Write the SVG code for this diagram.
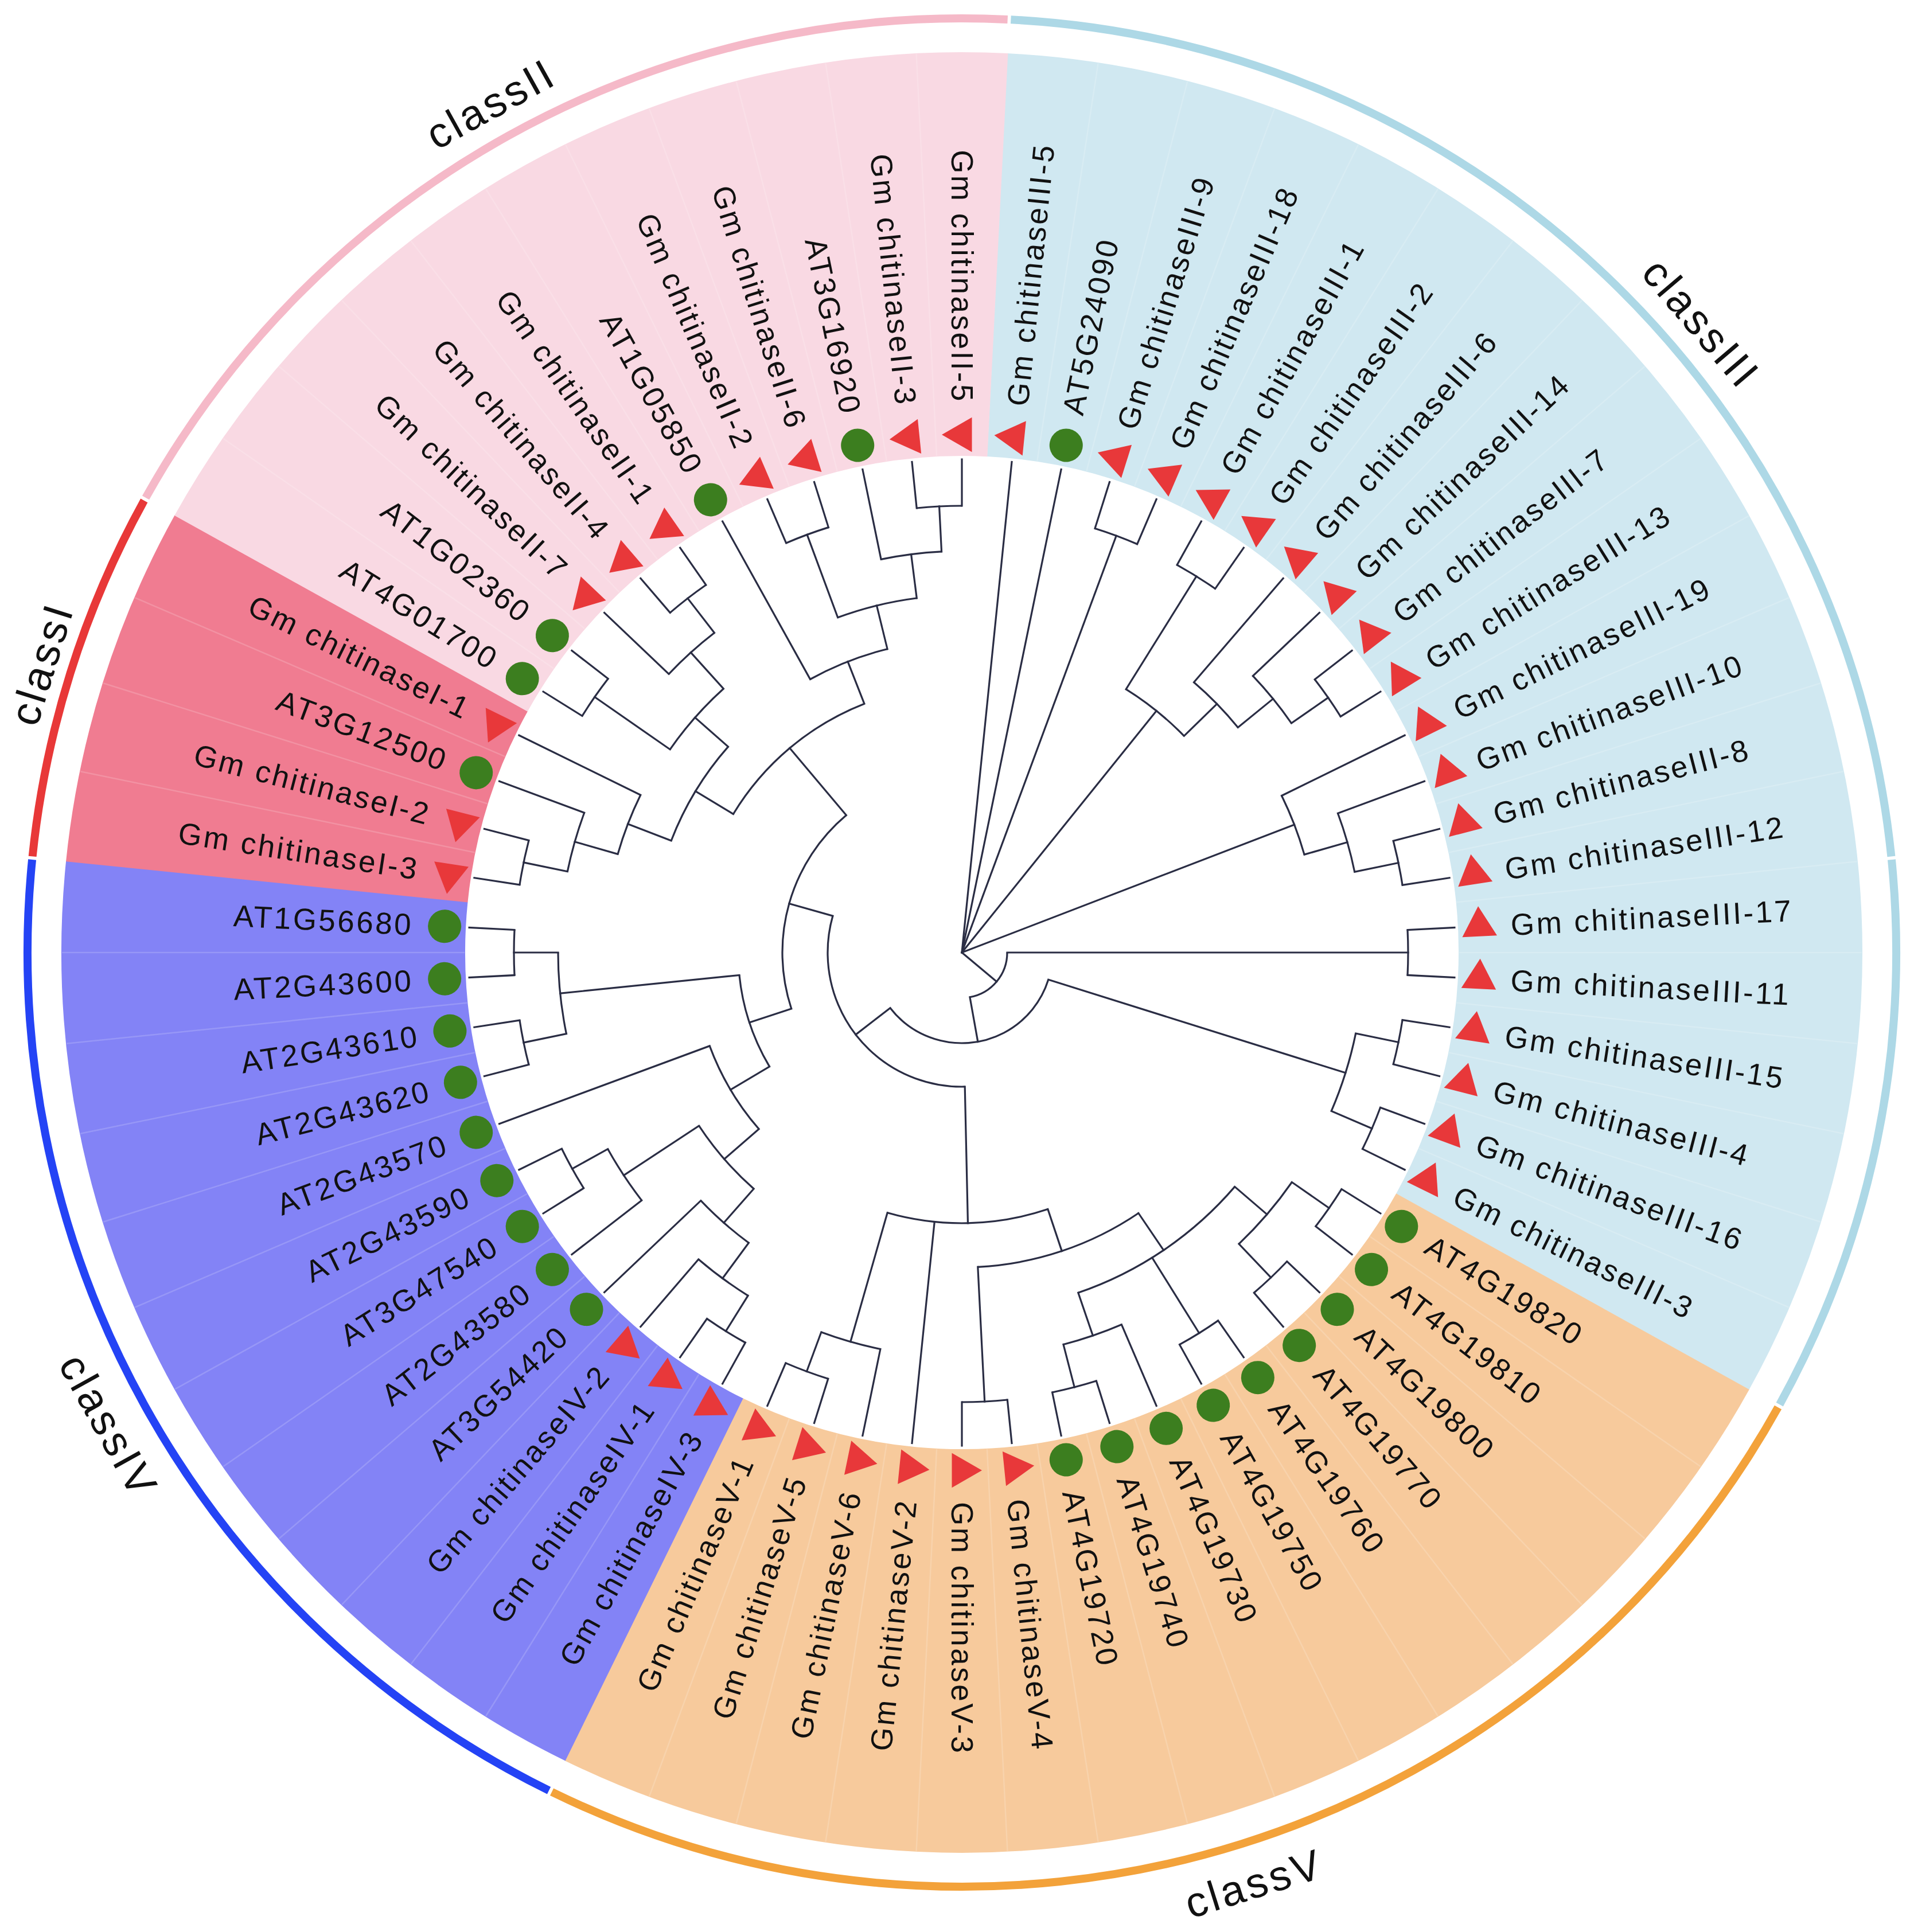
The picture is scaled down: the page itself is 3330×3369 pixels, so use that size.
<svg xmlns="http://www.w3.org/2000/svg" width="3330" height="3369" viewBox="0 0 3330 3369">
<style>
.lb{font-family:"Liberation Sans",Arial,sans-serif;font-size:53px;letter-spacing:3.5px;fill:#111111;dominant-baseline:central}
.lt{text-anchor:end}
.cl{font-family:"Liberation Sans",Arial,sans-serif;font-size:74px;letter-spacing:5px;fill:#111111;text-anchor:middle}
#connectors line,#connectors circle{fill:none;stroke:#2a2d44;stroke-width:3.2}
#connectors line{stroke-linecap:square}
</style>
<defs>
<polygon id="tri" points="903,-35 872.7,17.5 933.3,17.5" fill="#E8383A"/>
<circle id="dot" cx="903" cy="0" r="29" fill="#3C7E1F"/>
<line id="sep" x1="867" x2="1569" y1="0" y2="0" stroke="#ffffff" stroke-opacity="0.17" stroke-width="2.5"/>
</defs>
<rect width="3330" height="3369" fill="#ffffff"/>
<g transform="translate(1677,1661)">
<g id="ranges" fill="none" stroke-width="704">
<circle r="1218" pathLength="360" stroke="#D0E8F1" stroke-dasharray="116.16 360" transform="rotate(-87.097)"/>
<circle r="1218" pathLength="360" stroke="#F7CA9C" stroke-dasharray="87.13 360" transform="rotate(29.032)"/>
<circle r="1218" pathLength="360" stroke="#8383F6" stroke-dasharray="69.71 360" transform="rotate(116.129)"/>
<circle r="1218" pathLength="360" stroke="#F07C91" stroke-dasharray="23.26 360" transform="rotate(185.806)"/>
<circle r="1218" pathLength="360" stroke="#F9D9E3" stroke-dasharray="63.90 360" transform="rotate(209.032)"/>
</g>
<g id="separators">
<use href="#sep" transform="rotate(-81.290)"/><use href="#sep" transform="rotate(-75.484)"/><use href="#sep" transform="rotate(-69.677)"/><use href="#sep" transform="rotate(-63.871)"/><use href="#sep" transform="rotate(-58.065)"/><use href="#sep" transform="rotate(-52.258)"/><use href="#sep" transform="rotate(-46.452)"/><use href="#sep" transform="rotate(-40.645)"/><use href="#sep" transform="rotate(-34.839)"/><use href="#sep" transform="rotate(-29.032)"/><use href="#sep" transform="rotate(-23.226)"/><use href="#sep" transform="rotate(-17.419)"/><use href="#sep" transform="rotate(-11.613)"/><use href="#sep" transform="rotate(-5.806)"/><use href="#sep" transform="rotate(0)"/><use href="#sep" transform="rotate(5.806)"/><use href="#sep" transform="rotate(11.613)"/><use href="#sep" transform="rotate(17.419)"/><use href="#sep" transform="rotate(23.226)"/>
<use href="#sep" transform="rotate(34.839)"/><use href="#sep" transform="rotate(40.645)"/><use href="#sep" transform="rotate(46.452)"/><use href="#sep" transform="rotate(52.258)"/><use href="#sep" transform="rotate(58.065)"/><use href="#sep" transform="rotate(63.871)"/><use href="#sep" transform="rotate(69.677)"/><use href="#sep" transform="rotate(75.484)"/><use href="#sep" transform="rotate(81.290)"/><use href="#sep" transform="rotate(87.097)"/><use href="#sep" transform="rotate(92.903)"/><use href="#sep" transform="rotate(98.710)"/><use href="#sep" transform="rotate(104.516)"/><use href="#sep" transform="rotate(110.323)"/>
<use href="#sep" transform="rotate(121.935)"/><use href="#sep" transform="rotate(127.742)"/><use href="#sep" transform="rotate(133.548)"/><use href="#sep" transform="rotate(139.355)"/><use href="#sep" transform="rotate(145.161)"/><use href="#sep" transform="rotate(150.968)"/><use href="#sep" transform="rotate(156.774)"/><use href="#sep" transform="rotate(162.581)"/><use href="#sep" transform="rotate(168.387)"/><use href="#sep" transform="rotate(174.194)"/><use href="#sep" transform="rotate(180)"/>
<use href="#sep" transform="rotate(191.613)"/><use href="#sep" transform="rotate(197.419)"/><use href="#sep" transform="rotate(203.226)"/>
<use href="#sep" transform="rotate(214.839)"/><use href="#sep" transform="rotate(220.645)"/><use href="#sep" transform="rotate(226.452)"/><use href="#sep" transform="rotate(232.258)"/><use href="#sep" transform="rotate(238.065)"/><use href="#sep" transform="rotate(243.871)"/><use href="#sep" transform="rotate(249.677)"/><use href="#sep" transform="rotate(255.484)"/><use href="#sep" transform="rotate(261.290)"/><use href="#sep" transform="rotate(267.097)"/>
</g>
<g id="class-rings" fill="none" stroke-width="14">
<circle r="1629" pathLength="360" stroke="#F5B9C8" stroke-dasharray="63.671 360" transform="rotate(209.132)"/>
<circle r="1629" pathLength="360" stroke="#ADD8E6" stroke-dasharray="81.091 360" transform="rotate(-86.997)"/>
<circle r="1629" pathLength="360" stroke="#ADD8E6" stroke-dasharray="34.638 360" transform="rotate(-5.706)"/>
<circle r="1629" pathLength="360" stroke="#F3A23A" stroke-dasharray="86.897 360" transform="rotate(29.132)"/>
<circle r="1629" pathLength="360" stroke="#2443F5" stroke-dasharray="69.477 360" transform="rotate(116.229)"/>
<circle r="1629" pathLength="360" stroke="#E83838" stroke-dasharray="23.026 360" transform="rotate(185.906)"/>
</g>
<g id="class-labels" class="cl">
<text transform="rotate(-119.03) translate(1667 0) rotate(90)">classII</text>
<text transform="rotate(-40.4) translate(1667 0) rotate(90)">classIII</text>
<text transform="rotate(197.42) translate(1656 0) rotate(90)">classI</text>
<text transform="rotate(150.97) translate(1727 0) rotate(-90)">classIV</text>
<text transform="rotate(72.58) translate(1727 0) rotate(-90)">classV</text>
</g>
<g id="connectors">
<line x1="0" x2="860" transform="rotate(-84.194)"/>
<line x1="0" x2="860" transform="rotate(-78.387)"/>
<line x1="775" x2="860" transform="rotate(-72.581)"/>
<line x1="775" x2="860" transform="rotate(-66.774)"/>
<line x1="773" x2="860" transform="rotate(-60.968)"/>
<line x1="773" x2="860" transform="rotate(-55.161)"/>
<line x1="621" x2="860" transform="rotate(-49.355)"/>
<line x1="700" x2="860" transform="rotate(-43.548)"/>
<line x1="778" x2="860" transform="rotate(-37.742)"/>
<line x1="778" x2="860" transform="rotate(-31.935)"/>
<line x1="621" x2="860" transform="rotate(-26.129)"/>
<line x1="699" x2="860" transform="rotate(-20.323)"/>
<line x1="777" x2="860" transform="rotate(-14.516)"/>
<line x1="777" x2="860" transform="rotate(-8.710)"/>
<line x1="778" x2="860" transform="rotate(-2.903)"/>
<line x1="778" x2="860" transform="rotate(2.903)"/>
<line x1="777" x2="860" transform="rotate(8.710)"/>
<line x1="777" x2="860" transform="rotate(14.516)"/>
<line x1="778" x2="860" transform="rotate(20.323)"/>
<line x1="778" x2="860" transform="rotate(26.129)"/>
<line x1="780" x2="860" transform="rotate(31.935)"/>
<line x1="780" x2="860" transform="rotate(37.742)"/>
<line x1="782" x2="860" transform="rotate(43.548)"/>
<line x1="782" x2="860" transform="rotate(49.355)"/>
<line x1="782" x2="860" transform="rotate(55.161)"/>
<line x1="782" x2="860" transform="rotate(60.968)"/>
<line x1="706" x2="860" transform="rotate(66.774)"/>
<line x1="783" x2="860" transform="rotate(72.581)"/>
<line x1="783" x2="860" transform="rotate(78.387)"/>
<line x1="784" x2="860" transform="rotate(84.194)"/>
<line x1="784" x2="860" transform="rotate(90)"/>
<line x1="472" x2="860" transform="rotate(95.806)"/>
<line x1="706" x2="860" transform="rotate(101.613)"/>
<line x1="779" x2="860" transform="rotate(107.419)"/>
<line x1="779" x2="860" transform="rotate(113.226)"/>
<line x1="778" x2="860" transform="rotate(119.032)"/>
<line x1="778" x2="860" transform="rotate(124.839)"/>
<line x1="705" x2="860" transform="rotate(130.645)"/>
<line x1="628" x2="860" transform="rotate(136.452)"/>
<line x1="706" x2="860" transform="rotate(142.258)"/>
<line x1="777" x2="860" transform="rotate(148.065)"/>
<line x1="777" x2="860" transform="rotate(153.871)"/>
<line x1="469" x2="860" transform="rotate(159.677)"/>
<line x1="780" x2="860" transform="rotate(165.484)"/>
<line x1="780" x2="860" transform="rotate(171.290)"/>
<line x1="781" x2="860" transform="rotate(177.097)"/>
<line x1="781" x2="860" transform="rotate(182.903)"/>
<line x1="780" x2="860" transform="rotate(188.710)"/>
<line x1="780" x2="860" transform="rotate(194.516)"/>
<line x1="702" x2="860" transform="rotate(200.323)"/>
<line x1="624" x2="860" transform="rotate(206.129)"/>
<line x1="780" x2="860" transform="rotate(211.935)"/>
<line x1="780" x2="860" transform="rotate(217.742)"/>
<line x1="705" x2="860" transform="rotate(223.548)"/>
<line x1="781" x2="860" transform="rotate(229.355)"/>
<line x1="781" x2="860" transform="rotate(235.161)"/>
<line x1="545" x2="860" transform="rotate(240.968)"/>
<line x1="777" x2="860" transform="rotate(246.774)"/>
<line x1="777" x2="860" transform="rotate(252.581)"/>
<line x1="700" x2="860" transform="rotate(258.387)"/>
<line x1="779" x2="860" transform="rotate(264.194)"/>
<line x1="779" x2="860" transform="rotate(270)"/>
<line x1="0" x2="775" transform="rotate(-69.677)"/>
<line x1="541" x2="773" transform="rotate(-58.065)"/>
<line x1="700" x2="778" transform="rotate(-34.839)"/>
<line x1="621" x2="700" transform="rotate(-39.194)"/>
<line x1="541" x2="621" transform="rotate(-44.274)"/>
<line x1="0" x2="541" transform="rotate(-51.170)"/>
<line x1="699" x2="777" transform="rotate(-11.613)"/>
<line x1="621" x2="699" transform="rotate(-15.968)"/>
<line x1="0" x2="621" transform="rotate(-21.049)"/>
<line x1="79" x2="778" transform="rotate(0)"/>
<line x1="701" x2="777" transform="rotate(11.613)"/>
<line x1="701" x2="778" transform="rotate(23.226)"/>
<line x1="158" x2="701" transform="rotate(17.419)"/>
<line x1="701" x2="780" transform="rotate(34.839)"/>
<line x1="701" x2="782" transform="rotate(46.452)"/>
<line x1="627" x2="701" transform="rotate(40.645)"/>
<line x1="627" x2="782" transform="rotate(58.065)"/>
<line x1="706" x2="783" transform="rotate(75.484)"/>
<line x1="627" x2="706" transform="rotate(71.129)"/>
<line x1="549" x2="627" transform="rotate(55.887)"/>
<line x1="549" x2="784" transform="rotate(87.097)"/>
<line x1="472" x2="549" transform="rotate(71.492)"/>
<line x1="706" x2="779" transform="rotate(110.323)"/>
<line x1="472" x2="706" transform="rotate(105.968)"/>
<line x1="234" x2="472" transform="rotate(88.730)"/>
<line x1="705" x2="778" transform="rotate(121.935)"/>
<line x1="628" x2="705" transform="rotate(126.290)"/>
<line x1="549" x2="628" transform="rotate(131.371)"/>
<line x1="706" x2="777" transform="rotate(150.968)"/>
<line x1="549" x2="706" transform="rotate(146.613)"/>
<line x1="469" x2="549" transform="rotate(138.992)"/>
<line x1="390" x2="469" transform="rotate(149.335)"/>
<line x1="704" x2="780" transform="rotate(168.387)"/>
<line x1="704" x2="781" transform="rotate(180)"/>
<line x1="390" x2="704" transform="rotate(174.194)"/>
<line x1="313" x2="390" transform="rotate(161.764)"/>
<line x1="702" x2="780" transform="rotate(191.613)"/>
<line x1="624" x2="702" transform="rotate(195.968)"/>
<line x1="543" x2="624" transform="rotate(201.048)"/>
<line x1="620" x2="780" transform="rotate(214.839)"/>
<line x1="705" x2="781" transform="rotate(232.258)"/>
<line x1="620" x2="705" transform="rotate(227.903)"/>
<line x1="543" x2="620" transform="rotate(221.371)"/>
<line x1="466" x2="543" transform="rotate(211.210)"/>
<line x1="623" x2="777" transform="rotate(249.677)"/>
<line x1="700" x2="779" transform="rotate(267.097)"/>
<line x1="623" x2="700" transform="rotate(262.742)"/>
<line x1="545" x2="623" transform="rotate(256.210)"/>
<line x1="466" x2="545" transform="rotate(248.589)"/>
<line x1="313" x2="466" transform="rotate(229.899)"/>
<line x1="234" x2="313" transform="rotate(195.832)"/>
<line x1="158" x2="234" transform="rotate(142.281)"/>
<line x1="79" x2="158" transform="rotate(79.850)"/>
<line x1="0" x2="79" transform="rotate(39.925)"/>
<circle r="775" pathLength="360" stroke-dasharray="5.806 360" transform="rotate(-72.581)"/>
<circle r="773" pathLength="360" stroke-dasharray="5.806 360" transform="rotate(-60.968)"/>
<circle r="778" pathLength="360" stroke-dasharray="5.806 360" transform="rotate(-37.742)"/>
<circle r="700" pathLength="360" stroke-dasharray="8.709 360" transform="rotate(-43.548)"/>
<circle r="621" pathLength="360" stroke-dasharray="10.161 360" transform="rotate(-49.355)"/>
<circle r="541" pathLength="360" stroke-dasharray="13.791 360" transform="rotate(-58.065)"/>
<circle r="777" pathLength="360" stroke-dasharray="5.806 360" transform="rotate(-14.516)"/>
<circle r="699" pathLength="360" stroke-dasharray="8.710 360" transform="rotate(-20.323)"/>
<circle r="621" pathLength="360" stroke-dasharray="10.161 360" transform="rotate(-26.129)"/>
<circle r="778" pathLength="360" stroke-dasharray="5.806 360" transform="rotate(-2.903)"/>
<circle r="777" pathLength="360" stroke-dasharray="5.806 360" transform="rotate(8.710)"/>
<circle r="778" pathLength="360" stroke-dasharray="5.806 360" transform="rotate(20.323)"/>
<circle r="701" pathLength="360" stroke-dasharray="11.613 360" transform="rotate(11.613)"/>
<circle r="780" pathLength="360" stroke-dasharray="5.807 360" transform="rotate(31.935)"/>
<circle r="782" pathLength="360" stroke-dasharray="5.807 360" transform="rotate(43.548)"/>
<circle r="701" pathLength="360" stroke-dasharray="11.613 360" transform="rotate(34.839)"/>
<circle r="782" pathLength="360" stroke-dasharray="5.807 360" transform="rotate(55.161)"/>
<circle r="783" pathLength="360" stroke-dasharray="5.806 360" transform="rotate(72.581)"/>
<circle r="706" pathLength="360" stroke-dasharray="8.710 360" transform="rotate(66.774)"/>
<circle r="627" pathLength="360" stroke-dasharray="30.484 360" transform="rotate(40.645)"/>
<circle r="784" pathLength="360" stroke-dasharray="5.806 360" transform="rotate(84.194)"/>
<circle r="549" pathLength="360" stroke-dasharray="31.210 360" transform="rotate(55.887)"/>
<circle r="779" pathLength="360" stroke-dasharray="5.807 360" transform="rotate(107.419)"/>
<circle r="706" pathLength="360" stroke-dasharray="8.710 360" transform="rotate(101.613)"/>
<circle r="472" pathLength="360" stroke-dasharray="34.476 360" transform="rotate(71.492)"/>
<circle r="778" pathLength="360" stroke-dasharray="5.807 360" transform="rotate(119.032)"/>
<circle r="705" pathLength="360" stroke-dasharray="8.710 360" transform="rotate(121.935)"/>
<circle r="628" pathLength="360" stroke-dasharray="10.162 360" transform="rotate(126.290)"/>
<circle r="777" pathLength="360" stroke-dasharray="5.806 360" transform="rotate(148.065)"/>
<circle r="706" pathLength="360" stroke-dasharray="8.710 360" transform="rotate(142.258)"/>
<circle r="549" pathLength="360" stroke-dasharray="15.242 360" transform="rotate(131.371)"/>
<circle r="469" pathLength="360" stroke-dasharray="20.685 360" transform="rotate(138.992)"/>
<circle r="780" pathLength="360" stroke-dasharray="5.806 360" transform="rotate(165.484)"/>
<circle r="781" pathLength="360" stroke-dasharray="5.806 360" transform="rotate(177.097)"/>
<circle r="704" pathLength="360" stroke-dasharray="11.613 360" transform="rotate(168.387)"/>
<circle r="390" pathLength="360" stroke-dasharray="24.859 360" transform="rotate(149.335)"/>
<circle r="780" pathLength="360" stroke-dasharray="5.806 360" transform="rotate(188.710)"/>
<circle r="702" pathLength="360" stroke-dasharray="8.710 360" transform="rotate(191.613)"/>
<circle r="624" pathLength="360" stroke-dasharray="10.161 360" transform="rotate(195.968)"/>
<circle r="780" pathLength="360" stroke-dasharray="5.807 360" transform="rotate(211.935)"/>
<circle r="781" pathLength="360" stroke-dasharray="5.806 360" transform="rotate(229.355)"/>
<circle r="705" pathLength="360" stroke-dasharray="8.710 360" transform="rotate(223.548)"/>
<circle r="620" pathLength="360" stroke-dasharray="13.064 360" transform="rotate(214.839)"/>
<circle r="543" pathLength="360" stroke-dasharray="20.323 360" transform="rotate(201.048)"/>
<circle r="777" pathLength="360" stroke-dasharray="5.807 360" transform="rotate(246.774)"/>
<circle r="779" pathLength="360" stroke-dasharray="5.806 360" transform="rotate(264.194)"/>
<circle r="700" pathLength="360" stroke-dasharray="8.710 360" transform="rotate(258.387)"/>
<circle r="623" pathLength="360" stroke-dasharray="13.065 360" transform="rotate(249.677)"/>
<circle r="545" pathLength="360" stroke-dasharray="15.242 360" transform="rotate(240.968)"/>
<circle r="466" pathLength="360" stroke-dasharray="37.379 360" transform="rotate(211.210)"/>
<circle r="313" pathLength="360" stroke-dasharray="68.135 360" transform="rotate(161.764)"/>
<circle r="234" pathLength="360" stroke-dasharray="107.102 360" transform="rotate(88.730)"/>
<circle r="158" pathLength="360" stroke-dasharray="124.862 360" transform="rotate(17.419)"/>
<circle r="79" pathLength="360" stroke-dasharray="79.850 360" transform="rotate(0)"/>
</g>
<g id="leaves">
<g id="GmIII-5" transform="rotate(-84.194)"><use href="#tri"/><text class="lb" x="958">Gm chitinaseIII-5</text></g>
<g id="AT5G24090" transform="rotate(-78.387)"><use href="#dot"/><text class="lb" x="958">AT5G24090</text></g>
<g id="GmIII-9" transform="rotate(-72.581)"><use href="#tri"/><text class="lb" x="958">Gm chitinaseIII-9</text></g>
<g id="GmIII-18" transform="rotate(-66.774)"><use href="#tri"/><text class="lb" x="958">Gm chitinaseIII-18</text></g>
<g id="GmIII-1" transform="rotate(-60.968)"><use href="#tri"/><text class="lb" x="958">Gm chitinaseIII-1</text></g>
<g id="GmIII-2" transform="rotate(-55.161)"><use href="#tri"/><text class="lb" x="958">Gm chitinaseIII-2</text></g>
<g id="GmIII-6" transform="rotate(-49.355)"><use href="#tri"/><text class="lb" x="958">Gm chitinaseIII-6</text></g>
<g id="GmIII-14" transform="rotate(-43.548)"><use href="#tri"/><text class="lb" x="958">Gm chitinaseIII-14</text></g>
<g id="GmIII-7" transform="rotate(-37.742)"><use href="#tri"/><text class="lb" x="958">Gm chitinaseIII-7</text></g>
<g id="GmIII-13" transform="rotate(-31.935)"><use href="#tri"/><text class="lb" x="958">Gm chitinaseIII-13</text></g>
<g id="GmIII-19" transform="rotate(-26.129)"><use href="#tri"/><text class="lb" x="958">Gm chitinaseIII-19</text></g>
<g id="GmIII-10" transform="rotate(-20.323)"><use href="#tri"/><text class="lb" x="958">Gm chitinaseIII-10</text></g>
<g id="GmIII-8" transform="rotate(-14.516)"><use href="#tri"/><text class="lb" x="958">Gm chitinaseIII-8</text></g>
<g id="GmIII-12" transform="rotate(-8.710)"><use href="#tri"/><text class="lb" x="958">Gm chitinaseIII-12</text></g>
<g id="GmIII-17" transform="rotate(-2.903)"><use href="#tri"/><text class="lb" x="958">Gm chitinaseIII-17</text></g>
<g id="GmIII-11" transform="rotate(2.903)"><use href="#tri"/><text class="lb" x="958">Gm chitinaseIII-11</text></g>
<g id="GmIII-15" transform="rotate(8.710)"><use href="#tri"/><text class="lb" x="958">Gm chitinaseIII-15</text></g>
<g id="GmIII-4" transform="rotate(14.516)"><use href="#tri"/><text class="lb" x="958">Gm chitinaseIII-4</text></g>
<g id="GmIII-16" transform="rotate(20.323)"><use href="#tri"/><text class="lb" x="958">Gm chitinaseIII-16</text></g>
<g id="GmIII-3" transform="rotate(26.129)"><use href="#tri"/><text class="lb" x="958">Gm chitinaseIII-3</text></g>
<g id="AT4G19820" transform="rotate(31.935)"><use href="#dot"/><text class="lb" x="958">AT4G19820</text></g>
<g id="AT4G19810" transform="rotate(37.742)"><use href="#dot"/><text class="lb" x="958">AT4G19810</text></g>
<g id="AT4G19800" transform="rotate(43.548)"><use href="#dot"/><text class="lb" x="958">AT4G19800</text></g>
<g id="AT4G19770" transform="rotate(49.355)"><use href="#dot"/><text class="lb" x="958">AT4G19770</text></g>
<g id="AT4G19760" transform="rotate(55.161)"><use href="#dot"/><text class="lb" x="958">AT4G19760</text></g>
<g id="AT4G19750" transform="rotate(60.968)"><use href="#dot"/><text class="lb" x="958">AT4G19750</text></g>
<g id="AT4G19730" transform="rotate(66.774)"><use href="#dot"/><text class="lb" x="958">AT4G19730</text></g>
<g id="AT4G19740" transform="rotate(72.581)"><use href="#dot"/><text class="lb" x="958">AT4G19740</text></g>
<g id="AT4G19720" transform="rotate(78.387)"><use href="#dot"/><text class="lb" x="958">AT4G19720</text></g>
<g id="GmV-4" transform="rotate(84.194)"><use href="#tri"/><text class="lb" x="958">Gm chitinaseV-4</text></g>
<g id="GmV-3" transform="rotate(90)"><use href="#tri"/><text class="lb" x="958">Gm chitinaseV-3</text></g>
<g id="GmV-2" transform="rotate(95.806)"><use href="#tri"/><text class="lb lt" x="-958" transform="rotate(180)">Gm chitinaseV-2</text></g>
<g id="GmV-6" transform="rotate(101.613)"><use href="#tri"/><text class="lb lt" x="-958" transform="rotate(180)">Gm chitinaseV-6</text></g>
<g id="GmV-5" transform="rotate(107.419)"><use href="#tri"/><text class="lb lt" x="-958" transform="rotate(180)">Gm chitinaseV-5</text></g>
<g id="GmV-1" transform="rotate(113.226)"><use href="#tri"/><text class="lb lt" x="-958" transform="rotate(180)">Gm chitinaseV-1</text></g>
<g id="GmIV-3" transform="rotate(119.032)"><use href="#tri"/><text class="lb lt" x="-958" transform="rotate(180)">Gm chitinaseIV-3</text></g>
<g id="GmIV-1" transform="rotate(124.839)"><use href="#tri"/><text class="lb lt" x="-958" transform="rotate(180)">Gm chitinaseIV-1</text></g>
<g id="GmIV-2" transform="rotate(130.645)"><use href="#tri"/><text class="lb lt" x="-958" transform="rotate(180)">Gm chitinaseIV-2</text></g>
<g id="AT3G54420" transform="rotate(136.452)"><use href="#dot"/><text class="lb lt" x="-958" transform="rotate(180)">AT3G54420</text></g>
<g id="AT2G43580" transform="rotate(142.258)"><use href="#dot"/><text class="lb lt" x="-958" transform="rotate(180)">AT2G43580</text></g>
<g id="AT3G47540" transform="rotate(148.065)"><use href="#dot"/><text class="lb lt" x="-958" transform="rotate(180)">AT3G47540</text></g>
<g id="AT2G43590" transform="rotate(153.871)"><use href="#dot"/><text class="lb lt" x="-958" transform="rotate(180)">AT2G43590</text></g>
<g id="AT2G43570" transform="rotate(159.677)"><use href="#dot"/><text class="lb lt" x="-958" transform="rotate(180)">AT2G43570</text></g>
<g id="AT2G43620" transform="rotate(165.484)"><use href="#dot"/><text class="lb lt" x="-958" transform="rotate(180)">AT2G43620</text></g>
<g id="AT2G43610" transform="rotate(171.290)"><use href="#dot"/><text class="lb lt" x="-958" transform="rotate(180)">AT2G43610</text></g>
<g id="AT2G43600" transform="rotate(177.097)"><use href="#dot"/><text class="lb lt" x="-958" transform="rotate(180)">AT2G43600</text></g>
<g id="AT1G56680" transform="rotate(182.903)"><use href="#dot"/><text class="lb lt" x="-958" transform="rotate(180)">AT1G56680</text></g>
<g id="GmI-3" transform="rotate(188.710)"><use href="#tri"/><text class="lb lt" x="-958" transform="rotate(180)">Gm chitinaseI-3</text></g>
<g id="GmI-2" transform="rotate(194.516)"><use href="#tri"/><text class="lb lt" x="-958" transform="rotate(180)">Gm chitinaseI-2</text></g>
<g id="AT3G12500" transform="rotate(200.323)"><use href="#dot"/><text class="lb lt" x="-958" transform="rotate(180)">AT3G12500</text></g>
<g id="GmI-1" transform="rotate(206.129)"><use href="#tri"/><text class="lb lt" x="-958" transform="rotate(180)">Gm chitinaseI-1</text></g>
<g id="AT4G01700" transform="rotate(211.935)"><use href="#dot"/><text class="lb lt" x="-958" transform="rotate(180)">AT4G01700</text></g>
<g id="AT1G02360" transform="rotate(217.742)"><use href="#dot"/><text class="lb lt" x="-958" transform="rotate(180)">AT1G02360</text></g>
<g id="GmII-7" transform="rotate(223.548)"><use href="#tri"/><text class="lb lt" x="-958" transform="rotate(180)">Gm chitinaseII-7</text></g>
<g id="GmII-4" transform="rotate(229.355)"><use href="#tri"/><text class="lb lt" x="-958" transform="rotate(180)">Gm chitinaseII-4</text></g>
<g id="GmII-1" transform="rotate(235.161)"><use href="#tri"/><text class="lb lt" x="-958" transform="rotate(180)">Gm chitinaseII-1</text></g>
<g id="AT1G05850" transform="rotate(240.968)"><use href="#dot"/><text class="lb lt" x="-958" transform="rotate(180)">AT1G05850</text></g>
<g id="GmII-2" transform="rotate(246.774)"><use href="#tri"/><text class="lb lt" x="-958" transform="rotate(180)">Gm chitinaseII-2</text></g>
<g id="GmII-6" transform="rotate(252.581)"><use href="#tri"/><text class="lb lt" x="-958" transform="rotate(180)">Gm chitinaseII-6</text></g>
<g id="AT3G16920" transform="rotate(258.387)"><use href="#dot"/><text class="lb lt" x="-958" transform="rotate(180)">AT3G16920</text></g>
<g id="GmII-3" transform="rotate(264.194)"><use href="#tri"/><text class="lb lt" x="-958" transform="rotate(180)">Gm chitinaseII-3</text></g>
<g id="GmII-5" transform="rotate(270)"><use href="#tri"/><text class="lb lt" x="-958" transform="rotate(180)">Gm chitinaseII-5</text></g>
</g>
</g>
</svg>
